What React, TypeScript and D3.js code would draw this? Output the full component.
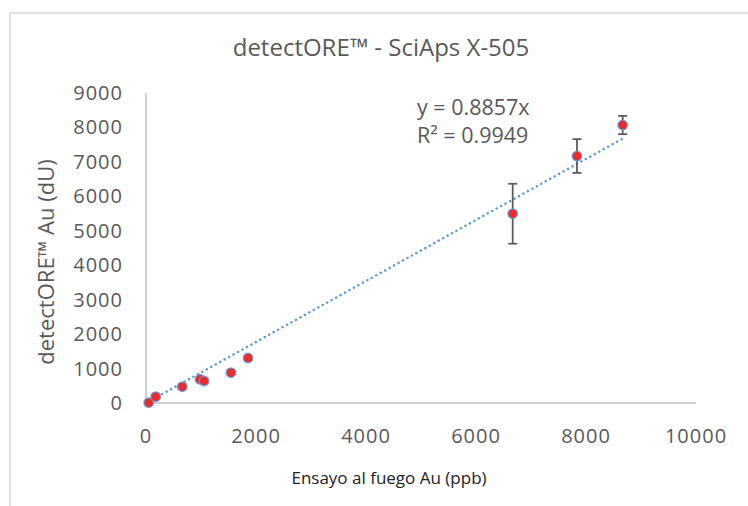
import * as d3 from "d3";

// fire assay (ppb) vs detectORE reading (dU)
const fireAssay = [50, 176, 660, 982, 1055, 1545, 1855, 6667, 7836, 8667];
const detectOre = [10, 183, 473, 688, 639, 880, 1306, 5495, 7170, 8070];
const errorBars = [20, 30, 40, 50, 50, 40, 60, 870, 490, 265];

const xTicks = [0, 2000, 4000, 6000, 8000, 10000];
const yTicks = [0, 1000, 2000, 3000, 4000, 5000, 6000, 7000, 8000, 9000];

const slope = 0.8857;
const rSquared = "0.9949";

const W = 748;
const H = 506;
const font = "'Open Sans', sans-serif";

export default function App() {
  const x = d3.scaleLinear().domain([0, 10000]).range([146, 696]);
  const y = d3.scaleLinear().domain([0, 9000]).range([403, 93]);

  const points = fireAssay.map((fx, i) => ({ fx, v: detectOre[i], e: errorBars[i] }));

  const xExt = d3.extent(fireAssay) as [number, number];
  const trend = d3
    .line<number>()
    .x((d) => x(d))
    .y((d) => y(d * slope))(xExt);

  return (
    <div style={{ position: "absolute", left: 0, top: 0 }}>
      <svg width={W} height={H} style={{ display: "block", background: "#fff" }}>
        {/* chart frame, cropped at right and bottom */}
        <rect x={10} y={13} width={W + 20} height={H + 20} fill="none" stroke="#d9d9d9" strokeWidth={1.5} />

        <text x={381} y={56} textAnchor="middle" fontFamily={font} fontSize={24} fill="#595959">
          detectORE™ - SciAps X-505
        </text>

        {/* axes */}
        <line x1={x(0)} x2={x(0)} y1={y(9000)} y2={y(0)} stroke="#bfbfbf" strokeWidth={1.5} />
        <line x1={x(0)} x2={x(10000)} y1={y(0)} y2={y(0)} stroke="#bfbfbf" strokeWidth={1.5} />

        {yTicks.map((t) => (
          <text
            key={"y" + t}
            x={123}
            y={y(t)}
            dy="0.35em"
            textAnchor="end"
            fontFamily={font}
            fontSize={20}
            letterSpacing={1}
            fill="#595959"
          >
            {t}
          </text>
        ))}
        {xTicks.map((t) => (
          <text
            key={"x" + t}
            x={x(t)}
            y={443}
            textAnchor="middle"
            fontFamily={font}
            fontSize={20}
            letterSpacing={1}
            fill="#595959"
          >
            {t}
          </text>
        ))}

        <text
          transform="translate(54,262) rotate(-90)"
          textAnchor="middle"
          fontFamily={font}
          fontSize={22}
          fill="#595959"
        >
          detectORE™ Au (dU)
        </text>
        <text x={389} y={484} textAnchor="middle" fontFamily={font} fontSize={17} fill="#222">
          Ensayo al fuego Au (ppb)
        </text>

        {/* trendline */}
        <path
          d={trend ?? ""}
          fill="none"
          stroke="#5b9bd5"
          strokeWidth={2.5}
          strokeLinecap="round"
          strokeDasharray="0.1 5"
        />

        {/* error bars */}
        {points.map((p, i) => (
          <g key={"e" + i} stroke="#595959" strokeWidth={1.75}>
            <line x1={x(p.fx)} x2={x(p.fx)} y1={y(p.v + p.e)} y2={y(p.v - p.e)} />
            <line x1={x(p.fx) - 4.5} x2={x(p.fx) + 4.5} y1={y(p.v + p.e)} y2={y(p.v + p.e)} />
            <line x1={x(p.fx) - 4.5} x2={x(p.fx) + 4.5} y1={y(p.v - p.e)} y2={y(p.v - p.e)} />
          </g>
        ))}

        {/* markers */}
        {points.map((p, i) => (
          <circle
            key={"p" + i}
            cx={x(p.fx)}
            cy={y(p.v)}
            r={4.75}
            fill="#f02a2a"
            stroke="#5b9bd5"
            strokeOpacity={0.8}
            strokeWidth={1.5}
          />
        ))}

        <text x={417} y={115} fontFamily={font} fontSize={21.5} fill="#595959">
          y = 0.8857x
        </text>
        <text x={417} y={143} fontFamily={font} fontSize={21.5} fill="#595959">
          R² = {rSquared}
        </text>
      </svg>
    </div>
  );
}
